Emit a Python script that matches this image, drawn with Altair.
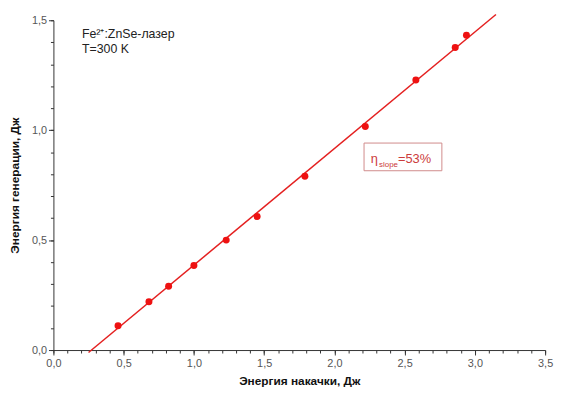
import altair as alt
import pandas as pd

# measured points
pump_energy = [0.46, 0.68, 0.82, 1.00, 1.23, 1.45, 1.79, 2.22, 2.58, 2.86, 2.94]
gen_energy = [0.11, 0.22, 0.29, 0.385, 0.50, 0.607, 0.79, 1.017, 1.228, 1.376, 1.432]

# linear fit line (slope 0.53)
fit_x = [0.25, 3.15]
fit_y = [-0.011, 1.526]

x_major = [0.0, 0.5, 1.0, 1.5, 2.0, 2.5, 3.0, 3.5]
y_major = [0.0, 0.5, 1.0, 1.5]
x_minor = [round(i * 0.1, 1) for i in range(36)]
y_minor = [round(i * 0.1, 1) for i in range(16)]

note_lines = ["Fe²⁺:ZnSe-лазер", "T=300 K"]
note_x = [0.203, 0.203]
note_y = [1.421, 1.350]

box_x = [2.211]
box_x2 = [2.765]
box_y = [0.8156]
box_y2 = [0.9415]

eta_parts = ["η", "slope", "=53%"]
eta_x = [2.258, 2.318, 2.452]
eta_y = [0.852, 0.834, 0.852]
eta_size = [13, 8, 13]

pts = pd.DataFrame({"x": pump_energy, "y": gen_energy})
fit = pd.DataFrame({"x": fit_x, "y": fit_y})
notes = pd.DataFrame({"t": note_lines, "x": note_x, "y": note_y})
box = pd.DataFrame({"x": box_x, "x2": box_x2, "y": box_y, "y2": box_y2})
eta = pd.DataFrame({"t": eta_parts, "x": eta_x, "y": eta_y, "s": eta_size})

xs = alt.Scale(domain=[0, 3.5], nice=False, zero=False)
ys = alt.Scale(domain=[0, 1.5], nice=False, zero=False)

lab = "replace(format(datum.value, '.1f'), '.', ',')"
common = dict(
    grid=False,
    domainColor="#333",
    tickColor="#333",
    labelColor="#555",
    labelFontSize=11,
    labelFont="Liberation Sans",
    titleFont="Liberation Sans",
    titleFontSize=12,
    titleFontWeight="bold",
    titleColor="#111",
    labelOverlap=False,
    labelFlush=False,
)

x_axis = alt.Axis(
    title="Энергия накачки, Дж", orient="bottom", values=x_major, labelExpr=lab,
    tickSize=5, labelPadding=3, titlePadding=7, **common
)
y_axis = alt.Axis(
    title="Энергия генерации, Дж", orient="left", values=y_major, labelExpr=lab,
    tickSize=5, labelPadding=2, titlePadding=10, **common
)
x_minor_axis = alt.Axis(
    title=None, orient="bottom", values=x_minor, labels=False, domain=False,
    grid=False, tickSize=3, tickColor="#333"
)
y_minor_axis = alt.Axis(
    title=None, orient="left", values=y_minor, labels=False, domain=False,
    grid=False, tickSize=3, tickColor="#333"
)

line = alt.Chart(fit).mark_line(color="#e42020", strokeWidth=1.5).encode(
    x=alt.X("x:Q", scale=xs, axis=x_axis),
    y=alt.Y("y:Q", scale=ys, axis=y_axis),
)
minor = alt.Chart(fit).mark_line(opacity=0).encode(
    x=alt.X("x:Q", scale=xs, axis=x_minor_axis),
    y=alt.Y("y:Q", scale=ys, axis=y_minor_axis),
)
points = alt.Chart(pts).mark_circle(color="#ee1111", size=50, opacity=1).encode(
    x=alt.X("x:Q", scale=xs, axis=None), y=alt.Y("y:Q", scale=ys, axis=None)
)
note_text = alt.Chart(notes).mark_text(
    align="left", baseline="alphabetic", font="Liberation Sans", fontSize=12.5, color="#222"
).encode(
    x=alt.X("x:Q", scale=xs, axis=None), y=alt.Y("y:Q", scale=ys, axis=None), text="t:N"
)
rect = alt.Chart(box).mark_rect(fill="white", stroke="#d08a8a", strokeWidth=1).encode(
    x=alt.X("x:Q", scale=xs, axis=None), x2="x2:Q",
    y=alt.Y("y:Q", scale=ys, axis=None), y2="y2:Q"
)
eta_text = alt.Chart(eta).mark_text(
    align="left", baseline="alphabetic", font="Liberation Sans", color="#cc3b3b"
).encode(
    x=alt.X("x:Q", scale=xs, axis=None),
    y=alt.Y("y:Q", scale=ys, axis=None),
    text="t:N",
    size=alt.Size("s:Q", scale=None, legend=None),
)

chart = (
    alt.layer(minor, line, points, note_text, rect, eta_text)
    .resolve_axis(x="independent", y="independent")
    .properties(
        width=498,
        height=334,
        autosize=alt.AutoSizeParams(type="none"),
        padding={"left": 46, "top": 10, "right": 10, "bottom": 35},
        background="white",
    )
    .configure_view(stroke=None)
)

chart.save("out.html", embed_options={"renderer": "svg", "actions": False})
